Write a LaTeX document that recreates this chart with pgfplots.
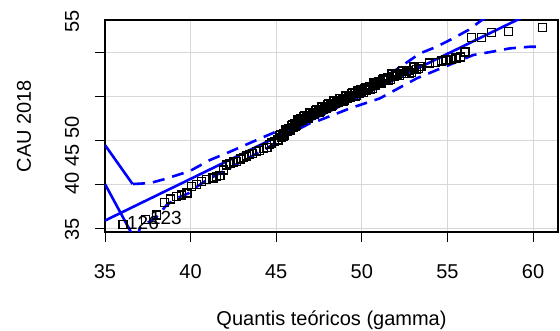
\documentclass[border=0pt]{standalone}
\usepackage{fontspec}
\setmainfont{Liberation Sans}
\usepackage{pgfplots}
\pgfplotsset{compat=1.18}
\definecolor{rblue}{RGB}{0,0,255}
\definecolor{rgrid}{RGB}{215,215,215}
\begin{document}
\begin{tikzpicture}
\useasboundingbox (0,0) rectangle (560pt,331pt);
\begin{axis}[
  at={(105pt,99pt)}, anchor=south west,
  scale only axis, width=453pt, height=212pt,
  xmin=35, xmax=61.46, ymin=34.55, ymax=58.64,
  axis line style={black, line width=1.1pt},
  xtick={35,40,45,50,55,60},
  ytick={35,40,45,50,55},
  yticklabels={{},{},{},{},{}},
  extra y ticks={34.8,40.1,43.2,46.4,58.5},
  extra y tick labels={35,40,45,50,55},
  extra tick style={major tick length=0pt, grid=none},
  tick pos=left, tick align=outside, major tick length=10pt,
  tick style={black, line width=0.8pt},
  grid=major, major grid style={rgrid, line width=1pt},
  /pgf/number format/assume math mode=true,
  every tick label/.append style={font=\fontsize{20}{24}\selectfont},
  xticklabel style={anchor=base, yshift=-37pt},
  yticklabel style={xshift=-26pt, rotate=90, anchor=base},
  xlabel={Quantis teóricos (gamma)},
  ylabel={CAU 2018},
  every axis x label/.style={at={(axis description cs:0.5,0)}, yshift=-88pt, anchor=center, font=\fontsize{20}{24}\selectfont},
  every axis y label/.style={at={(axis description cs:0,0.5)}, xshift=-81pt, rotate=90, anchor=center, font=\fontsize{20}{24}\selectfont},
  clip=true,
]
% points
\addplot[only marks, mark=square, mark size=4pt, mark options={black, line width=1.1pt, rounded corners=1.3pt}] coordinates {
(36.05,35.45) (37.39,36.02) (38.02,36.48) (38.50,37.95) (38.80,38.30) (39.19,38.56) (39.48,38.75) (39.79,38.98)
(40.06,39.69) (40.36,39.97) (40.65,40.26) (40.94,40.53) (41.31,40.68) (41.72,41.02) (42.11,42.16) (42.48,42.50)
(42.89,42.84) (43.29,43.18) (43.64,43.52) (44.05,43.86) (44.46,44.20) (44.75,44.66) (45.05,45.00)
(41.5,40.85) (41.9,41.6) (42.3,42.3) (42.7,42.6) (43.1,43.0) (43.45,43.4) (43.85,43.65) (44.25,44.0) (44.6,44.45) (44.9,44.8)
(45.1,45.11) (45.2,45.48) (45.3,45.29) (45.4,45.71) (45.5,45.52) (45.6,46.09) (45.7,46.05) (45.8,46.26)
(45.9,46.62) (46.0,46.44) (46.1,46.85) (46.2,46.67) (46.3,47.23) (46.4,47.20) (46.5,47.35) (46.6,47.65)
(46.7,47.40) (46.8,47.75) (46.9,47.50) (47.0,47.99) (47.1,47.90) (47.2,48.05) (47.3,48.35) (47.4,48.10)
(47.5,48.45) (47.6,48.20) (47.7,48.70) (47.8,48.60) (47.9,48.75) (48.0,49.05) (48.1,48.80) (48.2,49.15)
(48.3,48.90) (48.4,49.38) (48.5,49.26) (48.6,49.40) (48.7,49.68) (48.8,49.41) (48.9,49.75) (49.0,49.48)
(49.1,49.96) (49.2,49.85) (49.3,49.98) (49.4,50.26) (49.5,50.00) (49.6,50.33) (49.7,50.07) (49.8,50.55)
(49.9,50.43) (50.0,50.57) (50.15,50.90) (50.3,50.69) (50.45,51.09) (50.6,50.89) (50.75,51.43) (50.9,51.38)
(51.05,51.58) (51.2,51.92) (51.35,51.72) (51.5,52.12) (51.65,51.91) (51.8,52.46) (51.95,52.35) (52.1,52.49)
(52.3,52.80) (52.5,52.57) (52.7,52.94) (52.9,52.71) (53.1,53.23) (53.3,53.14) (53.5,53.31)
(45.15,45.00) (45.25,45.61) (45.35,45.58) (45.45,45.39) (45.55,46.16) (45.65,45.92) (45.75,46.33) (45.85,46.14)
(45.95,46.76) (46.05,46.72) (46.15,46.54) (46.25,47.30) (46.35,47.07) (46.45,47.45) (46.55,47.20) (46.65,47.75)
(46.75,47.65) (46.85,47.40) (46.95,48.10) (47.05,47.80) (47.15,48.15) (47.25,47.90) (47.35,48.45) (47.45,48.35)
(47.55,48.10) (47.65,48.80) (47.75,48.50) (47.85,48.85) (47.95,48.60) (48.05,49.15) (48.15,49.05) (48.25,48.80)
(48.35,49.49) (48.45,49.17) (48.55,49.51) (48.65,49.24) (48.75,49.77) (48.85,49.66) (48.95,49.39) (49.05,50.07)
(49.15,49.76) (49.25,50.09) (49.35,49.82) (49.45,50.36) (49.55,50.24) (49.65,49.98) (49.75,50.66) (49.85,50.34)
(49.95,50.68) (50.08,50.43) (50.22,51.02) (50.38,50.96) (50.52,50.76) (50.68,51.51) (50.82,51.25) (50.98,51.65)
(51.12,51.45) (51.28,52.04) (51.42,51.99) (51.58,51.79) (51.72,52.53) (51.88,52.25) (52.02,52.59) (52.2,52.34)
(52.4,52.91) (52.6,52.83) (52.8,52.60) (53.0,53.32) (53.2,53.03) (53.4,53.40)
(53.98,53.75) (54.33,53.86) (54.63,53.98) (54.92,54.09) (55.21,54.20) (55.50,54.32) (55.74,54.43)
(56.03,55.00) (56.42,56.67) (57.00,56.67) (57.59,57.24) (58.56,57.31) (60.57,57.76)
};
% point labels
\addplot[only marks, mark=none, point meta=explicit symbolic, nodes near coords,
  nodes near coords style={anchor=west, inner sep=1pt, xshift=3pt, yshift=1pt, font=\fontsize{19}{22}\selectfont, black}]
  coordinates {(36.05,35.45)[126] (37.39,36.02)[123]};
% fitted line
\addplot[rblue, line width=2.6pt] coordinates {(35,35.85) (61.46,60.91)};
% upper envelope
\addplot[rblue, line width=2.6pt] coordinates {(35,44.43) (36.61,40.0)};
\addplot[rblue, line width=2.6pt, dash pattern=on 12pt off 8pt] coordinates {
(36.64,40.0) (37.63,40.11) (38.50,40.57) (39.96,41.48) (41.13,42.73) (42.30,43.67) (43.86,45.0)
(45.22,46.14) (46.39,47.27) (46.97,47.84) (50.29,51.25) (51.84,52.76) (53.40,54.85) (54.37,55.60)
(55.34,56.56) (56.22,57.5) (57.02,58.64) (57.49,59.2)};
% lower envelope
\addplot[rblue, line width=2.6pt] coordinates {(35,40.0) (36.72,33.8)};
\addplot[rblue, line width=2.6pt, dash pattern=on 12pt off 8pt] coordinates {
(36.87,33.86) (37.04,35.0) (38.02,36.28) (38.60,37.61) (39.19,38.38) (39.87,38.94) (40.36,39.69)
(40.94,40.45) (44.45,44.06) (45.81,45.76) (46.97,46.90) (47.56,47.27) (49.31,48.60) (51.06,49.74)
(53.21,52.01) (54.37,52.95) (55.34,53.72) (56.51,54.66) (57.59,55.03) (58.66,55.42) (59.83,55.60) (60.35,55.60)};
\end{axis}
\end{tikzpicture}
\end{document}
